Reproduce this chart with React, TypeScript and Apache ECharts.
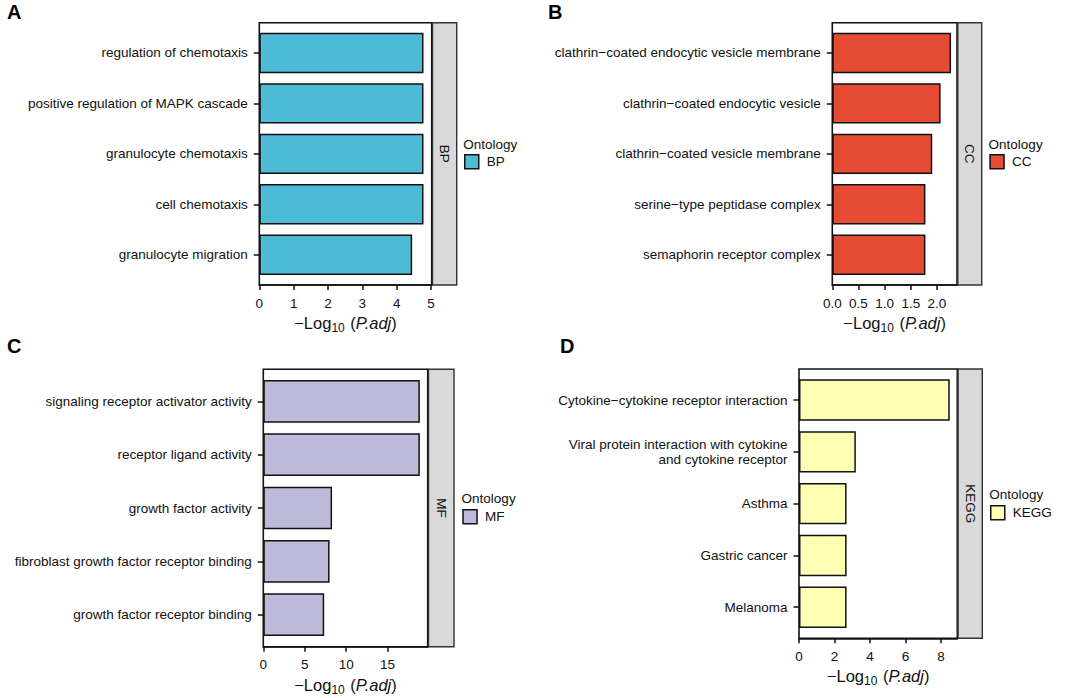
import React, { useEffect, useRef } from "react";
import * as echarts from "echarts";

// ---------- data ----------
const bpTerms = [
  "regulation of chemotaxis",
  "positive regulation of MAPK cascade",
  "granulocyte chemotaxis",
  "cell chemotaxis",
  "granulocyte migration",
];
const bpValues = [4.78, 4.78, 4.78, 4.78, 4.45];
const bpTicks = [0, 1, 2, 3, 4, 5];
const bpTickLabels = ["0", "1", "2", "3", "4", "5"];

const ccTerms = [
  "clathrin−coated endocytic vesicle membrane",
  "clathrin−coated endocytic vesicle",
  "clathrin−coated vesicle membrane",
  "serine−type peptidase complex",
  "semaphorin receptor complex",
];
const ccValues = [2.27, 2.07, 1.91, 1.78, 1.78];
const ccTicks = [0, 0.5, 1, 1.5, 2];
const ccTickLabels = ["0.0", "0.5", "1.0", "1.5", "2.0"];

const mfTerms = [
  "signaling receptor activator activity",
  "receptor ligand activity",
  "growth factor activity",
  "fibroblast growth factor receptor binding",
  "growth factor receptor binding",
];
const mfValues = [18.9, 18.9, 8.3, 8.0, 7.35];
const mfTicks = [0, 5, 10, 15];
const mfTickLabels = ["0", "5", "10", "15"];

const keggTerms = [
  "Cytokine−cytokine receptor interaction",
  "Viral protein interaction with cytokine\nand cytokine receptor",
  "Asthma",
  "Gastric cancer",
  "Melanoma",
];
const keggValues = [8.49, 3.2, 2.68, 2.68, 2.68];
const keggTicks = [0, 2, 4, 6, 8];
const keggTickLabels = ["0", "2", "4", "6", "8"];

const ontologies = ["BP", "CC", "MF", "KEGG"];
const panelLetters = ["A", "B", "C", "D"];

// ---------- styling / layout ----------
const FONT = "'Liberation Sans', Arial, Helvetica, sans-serif";
const INK = "#111111";
const colors = ["#4DBBD5", "#E64B35", "#BEBADA", "#FFFFB3"];

type Panel = {
  name: string;
  letter: string;
  terms: string[];
  values: number[];
  ticks: number[];
  tickLabels: string[];
  color: string;
  L: number; T: number; R: number; B: number; SR: number;
  legendX: number; legendY: number; titleY: number;
  letterX: number; letterY: number;
};

const panels: Panel[] = [
  { name: ontologies[0], letter: panelLetters[0], terms: bpTerms, values: bpValues, ticks: bpTicks, tickLabels: bpTickLabels, color: colors[0],
    L: 259.3, T: 22.7, R: 431.7, B: 285, SR: 456.7, legendX: 464, legendY: 154, titleY: 144.3, letterX: 7, letterY: 12 },
  { name: ontologies[1], letter: panelLetters[1], terms: ccTerms, values: ccValues, ticks: ccTicks, tickLabels: ccTickLabels, color: colors[1],
    L: 832.3, T: 22.7, R: 957, B: 285, SR: 981.7, legendX: 989.3, legendY: 154, titleY: 144.3, letterX: 548, letterY: 12 },
  { name: ontologies[2], letter: panelLetters[2], terms: mfTerms, values: mfValues, ticks: mfTicks, tickLabels: mfTickLabels, color: colors[2],
    L: 263.3, T: 369.3, R: 427.7, B: 646.7, SR: 454, legendX: 462.3, legendY: 509, titleY: 498.3, letterX: 7, letterY: 346 },
  { name: ontologies[3], letter: panelLetters[3], terms: keggTerms, values: keggValues, ticks: keggTicks, tickLabels: keggTickLabels, color: colors[3],
    L: 799, T: 369, R: 957.3, B: 638.3, SR: 982.3, legendX: 990, legendY: 505, titleY: 494, letterX: 560, letterY: 346 },
];

function buildOption() {
  const grid: any[] = [];
  const xAxis: any[] = [];
  const yAxis: any[] = [];
  const series: any[] = [];
  const legend: any[] = [];
  const graphic: any[] = [];

  panels.forEach((p, i) => {
    const H = p.B - p.T;
    const inset = H / 52; // 0.6-category expansion on each side
    const maxV = Math.max(...p.values) * 1.05;
    const base = i * 3;

    grid.push({
      left: p.L, top: p.T, width: p.R - p.L, height: H,
      show: true, backgroundColor: "#ffffff", borderColor: INK, borderWidth: 1.6,
    });
    grid.push({ left: p.L, top: p.T + inset, width: p.R - p.L, height: H - 2 * inset });
    grid.push({
      left: p.R + 0.8, top: p.T, width: p.SR - p.R - 0.8, height: H,
      show: true, backgroundColor: "#D9D9D9", borderColor: "#333333", borderWidth: 1.4,
    });

    const labels = p.tickLabels;
    const ticks = p.ticks;
    xAxis.push({
      gridIndex: base, type: "value", min: 0, max: maxV,
      axisLine: { show: true, lineStyle: { color: INK, width: 1.6 } },
      axisTick: { show: true, length: 5, customValues: ticks, lineStyle: { color: INK, width: 1.5 } },
      axisLabel: {
        show: true, customValues: ticks, margin: 11, fontSize: 13.5, color: INK, fontFamily: FONT,
        formatter: (v: number) => {
          const k = ticks.findIndex((t) => Math.abs(t - v) < 1e-9);
          return k >= 0 ? labels[k] : "";
        },
      },
      splitLine: { show: false },
      name: "{a|−Log}{s|10}{a| (}{i|P.adj}{a|)}",
      nameLocation: "middle",
      nameGap: 27,
      nameTextStyle: {
        color: INK, fontFamily: FONT, fontSize: 16,
        rich: {
          a: { fontSize: 16.5, color: INK, fontFamily: FONT },
          s: { fontSize: 12, color: INK, fontFamily: FONT, padding: [10, 1, 0, 0] },
          i: { fontSize: 16.5, color: INK, fontFamily: FONT, fontStyle: "italic" },
        },
      },
    });
    yAxis.push({ gridIndex: base, type: "value", show: false, min: 0, max: 1 });

    xAxis.push({ gridIndex: base + 1, type: "value", min: 0, max: maxV, show: false });
    yAxis.push({
      gridIndex: base + 1, type: "category", inverse: true, data: p.terms,
      axisLine: { show: false },
      axisTick: { show: true, alignWithLabel: true, length: 5.5, lineStyle: { color: INK, width: 1.5 } },
      axisLabel: { margin: 11.5, fontSize: 13.5, color: INK, fontFamily: FONT, lineHeight: 15 },
    });

    xAxis.push({ gridIndex: base + 2, type: "value", show: false, min: 0, max: 1 });
    yAxis.push({ gridIndex: base + 2, type: "value", show: false, min: 0, max: 1 });

    series.push({
      type: "bar", name: p.name, xAxisIndex: base + 1, yAxisIndex: base + 1,
      data: p.values, barCategoryGap: "20%",
      itemStyle: { color: p.color, borderColor: INK, borderWidth: 1.5 },
      emphasis: { disabled: true },
    });

    legend.push({
      data: [p.name], left: p.legendX, top: p.legendY, orient: "vertical", padding: 0,
      icon: "rect", itemWidth: 14, itemHeight: 14, selectedMode: false,
      itemStyle: { borderColor: INK, borderWidth: 1.5 },
      textStyle: { fontSize: 13.5, color: INK, fontFamily: FONT, padding: [0, 0, 0, 3] },
    });

    graphic.push({
      type: "text", x: p.legendX - 0.7, y: p.titleY,
      style: { text: "Ontology", font: `13.5px ${FONT}`, fill: INK, align: "left", verticalAlign: "middle", textAlign: "left", textVerticalAlign: "middle" },
    });
    graphic.push({
      type: "text", x: (p.R + p.SR) / 2 + 0.5, y: (p.T + p.B) / 2, rotation: -Math.PI / 2,
      style: { text: p.name, font: `13.5px ${FONT}`, fill: INK, align: "center", verticalAlign: "middle", textAlign: "center", textVerticalAlign: "middle" },
    });
    graphic.push({
      type: "text", x: p.letterX, y: p.letterY,
      style: { text: p.letter, font: `bold 20px ${FONT}`, fill: "#000", align: "left", verticalAlign: "middle", textAlign: "left", textVerticalAlign: "middle" },
    });
  });

  return {
    animation: false,
    backgroundColor: "#ffffff",
    textStyle: { fontFamily: FONT },
    grid, xAxis, yAxis, series, legend, graphic,
  };
}

export default function App() {
  const ref = useRef<HTMLDivElement>(null);
  useEffect(() => {
    if (!ref.current) return;
    const chart = echarts.init(ref.current, undefined, { renderer: "svg" });
    chart.setOption(buildOption() as any);
    return () => chart.dispose();
  }, []);
  return (
    <div
      ref={ref}
      style={{ position: "fixed", left: 0, top: 0, width: 1065, height: 698, background: "#fff" }}
    />
  );
}
